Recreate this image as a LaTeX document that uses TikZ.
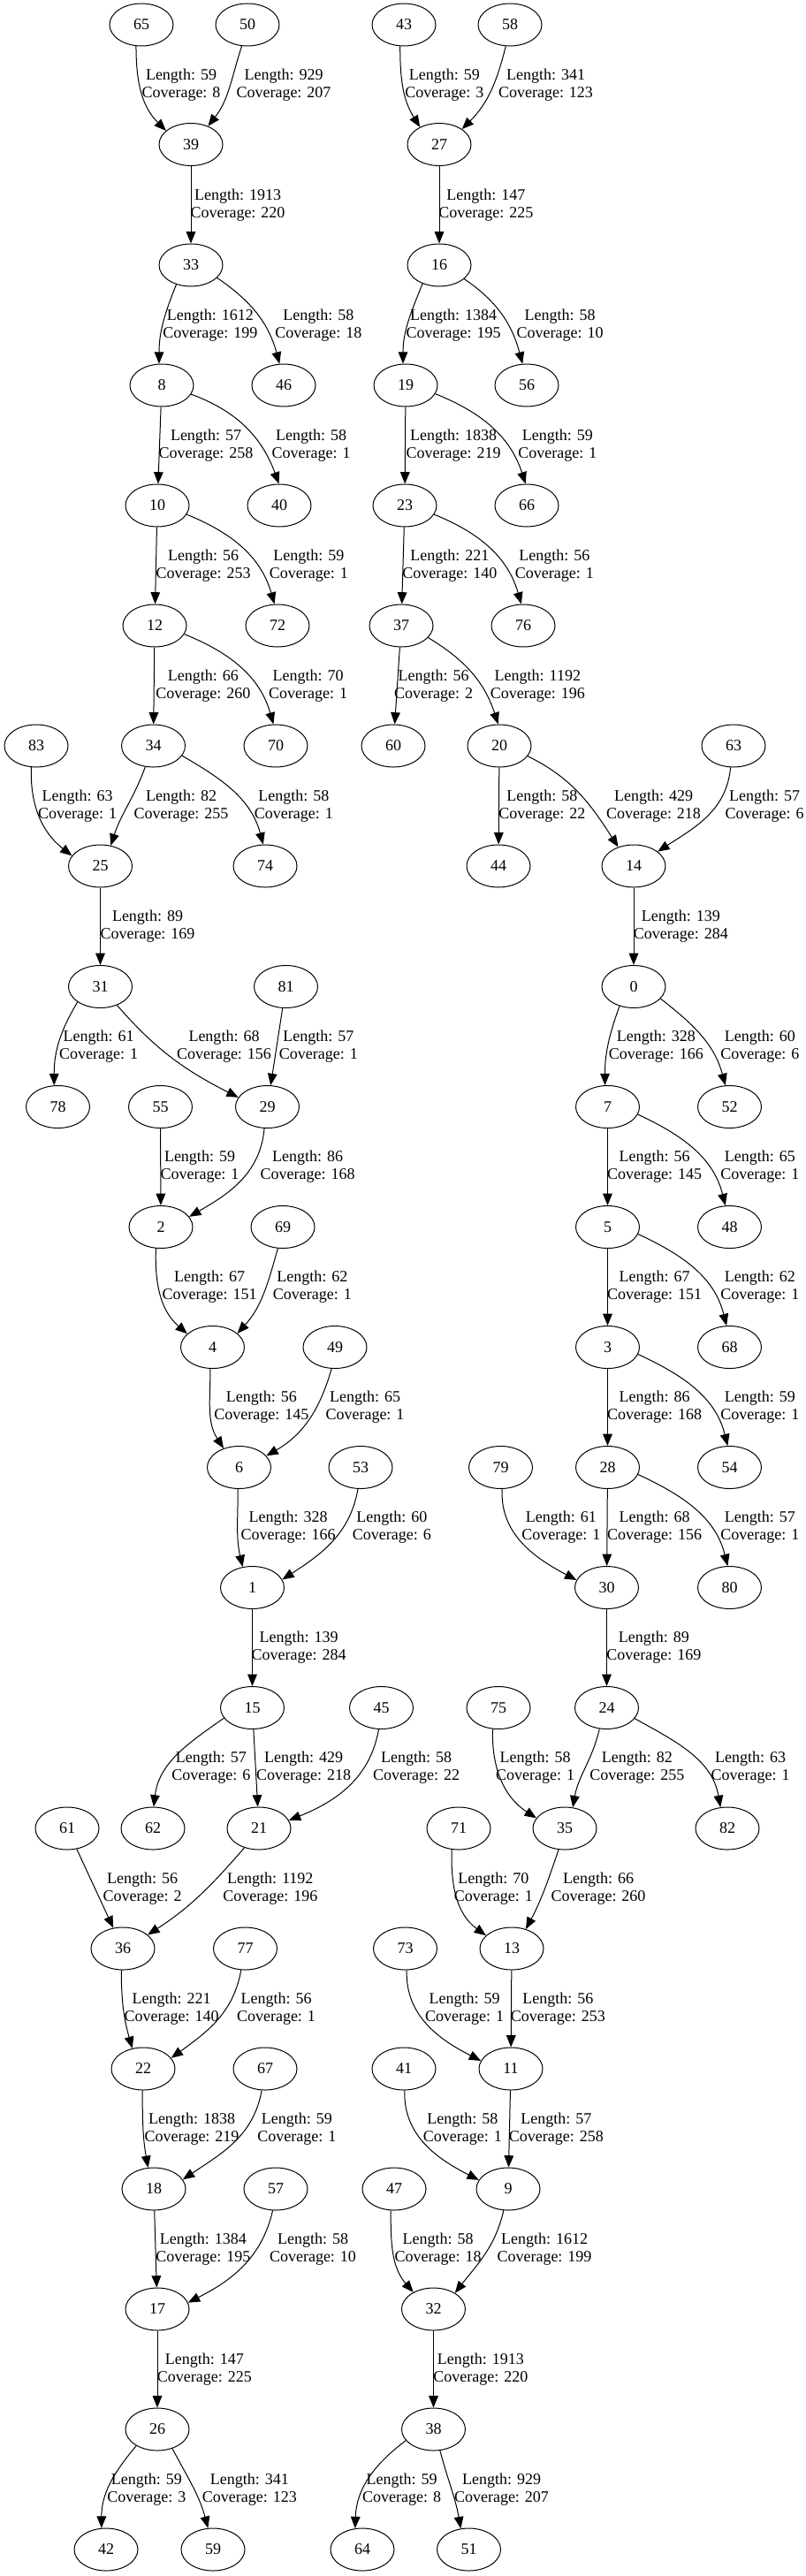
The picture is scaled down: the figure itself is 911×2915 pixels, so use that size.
\documentclass[tikz,border=0pt]{standalone}
\usepackage{fontspec}
\setmainfont{Liberation Serif}
\usetikzlibrary{shapes.geometric,arrows.meta}
\tikzset{
  vert/.style={ellipse, draw, line width=0.75pt, minimum width=54pt, minimum height=36pt, inner sep=0pt, font=\fontsize{13.5}{15}\selectfont},
  lbl/.style={align=center, inner sep=0pt, font=\fontsize{13.5}{15}\selectfont},
  e/.style={-{Triangle[length=10pt,width=8pt]}, line width=0.75pt}
}
\newcommand\elab[5]{\node[lbl] (#1) at (#2,-#3) {Length: #4\\Coverage: #5};}
\begin{document}
\begin{tikzpicture}[x=0.75pt,y=0.75pt]
\useasboundingbox (0,0) rectangle (911,-2915);
% nodes
\foreach \n/\x/\y in {65/160/28,50/280/28,43/457/28,58/577/28,
39/216/163.5,27/497/163.5,
33/216/300,16/497/300,
8/183/436,46/321/436,19/459/436,56/596/436,
10/178/572,40/316/572,23/458/572,66/596/572,
12/175/708,72/314/708,37/454/708,76/592/708,
83/41/844,34/173.5/844,70/312/844,60/445/844,20/565/844,63/830/844,
25/113.5/980,74/300/980,44/564/980,14/717/980,
31/113.5/1116.5,81/323.5/1116.5,0/717/1116.5,
78/65.5/1252.5,55/181.5/1252.5,29/302.5/1252.5,7/687.5/1252.5,52/825.5/1252.5,
2/182/1388.5,69/320/1388.5,5/687.5/1388.5,48/825.5/1388.5,
4/240.5/1524.5,49/379/1524.5,3/687.5/1524.5,68/825.5/1524.5,
6/270.5/1660.5,53/408/1660.5,79/566.5/1660.5,28/687.5/1660.5,54/825.5/1660.5,
1/285.5/1796.5,30/686.5/1796.5,80/825.5/1796.5,
15/285.5/1932.5,45/431.5/1932.5,75/564/1932.5,24/686.5/1932.5,
61/76/2069,62/173/2069,21/293/2069,71/519/2069,35/639/2069,82/823/2069,
36/139/2205,77/277.5/2205,73/458.5/2205,13/579/2205,
22/162/2341,67/300/2341,41/457/2341,11/578/2341,
18/174/2477,57/312/2477,47/446/2477,9/575/2477,
17/178/2613,32/490.5/2613,
26/178/2749,38/490.5/2749,
42/120/2885,59/241/2885,64/410/2885,51/530.5/2885}
  \node[vert] (n\n) at (\x,-\y) {\n};
% labels
\elab{l1}{205}{96}{59}{8}
\elab{l2}{321}{96}{929}{207}
\elab{l3}{502.8}{96}{59}{3}
\elab{l4}{617.5}{96}{341}{123}
\elab{l5}{269}{231.7}{1913}{220}
\elab{l6}{549.8}{231.7}{147}{225}
\elab{l7}{237.8}{368}{1612}{199}
\elab{l8}{360.3}{368}{58}{18}
\elab{l9}{513.2}{368}{1384}{195}
\elab{l10}{633.7}{368}{58}{10}
\elab{l11}{233}{504}{57}{258}
\elab{l12}{352.2}{504}{58}{1}
\elab{l13}{513.1}{504}{1838}{219}
\elab{l14}{630.8}{504}{59}{1}
\elab{l15}{230.1}{640}{56}{253}
\elab{l16}{349.3}{640}{59}{1}
\elab{l17}{508.8}{640}{221}{140}
\elab{l18}{627.3}{640}{56}{1}
\elab{l19}{229.8}{776}{66}{260}
\elab{l20}{348.7}{776}{70}{1}
\elab{l21}{490.7}{776}{56}{2}
\elab{l22}{608.4}{776}{1192}{196}
\elab{l23}{87.6}{912}{63}{1}
\elab{l24}{205}{912}{82}{255}
\elab{l25}{332.4}{912}{58}{1}
\elab{l26}{613.3}{912}{58}{22}
\elab{l27}{739.5}{912}{429}{218}
\elab{l28}{865}{912}{57}{6}
\elab{l29}{167}{1048}{89}{169}
\elab{l30}{770.4}{1048}{139}{284}
\elab{l31}{111.6}{1184.5}{61}{1}
\elab{l32}{253.5}{1184.5}{68}{156}
\elab{l33}{360.4}{1184.5}{57}{1}
\elab{l34}{742.4}{1184.5}{328}{166}
\elab{l35}{859.8}{1184.5}{60}{6}
\elab{l36}{226}{1320.5}{59}{1}
\elab{l37}{348.1}{1320.5}{86}{168}
\elab{l38}{740.7}{1320.5}{56}{145}
\elab{l39}{859.8}{1320.5}{65}{1}
\elab{l40}{237.1}{1456.5}{67}{151}
\elab{l41}{353.4}{1456.5}{62}{1}
\elab{l42}{740.7}{1456.5}{67}{151}
\elab{l43}{859.8}{1456.5}{62}{1}
\elab{l44}{295.8}{1592.5}{56}{145}
\elab{l45}{413}{1592.5}{65}{1}
\elab{l46}{740.7}{1592.5}{86}{168}
\elab{l47}{859.8}{1592.5}{59}{1}
\elab{l48}{326.2}{1728.5}{328}{166}
\elab{l49}{443.3}{1728.5}{60}{6}
\elab{l50}{634.8}{1728.5}{61}{1}
\elab{l51}{740.7}{1728.5}{68}{156}
\elab{l52}{859.8}{1728.5}{57}{1}
\elab{l53}{338.2}{1864.5}{139}{284}
\elab{l54}{739.8}{1864.5}{89}{169}
\elab{l55}{238.9}{2000.5}{57}{6}
\elab{l56}{343.7}{2000.5}{429}{218}
\elab{l57}{471.1}{2000.5}{58}{22}
\elab{l58}{605.7}{2000.5}{58}{1}
\elab{l59}{720.8}{2000.5}{82}{255}
\elab{l60}{849}{2000.5}{63}{1}
\elab{l61}{161.2}{2137}{56}{2}
\elab{l62}{305.8}{2137}{1192}{196}
\elab{l63}{558.4}{2137}{70}{1}
\elab{l64}{677}{2137}{66}{260}
\elab{l65}{194.2}{2273}{221}{140}
\elab{l66}{312.5}{2273}{56}{1}
\elab{l67}{525.7}{2273}{59}{1}
\elab{l68}{631.4}{2273}{56}{253}
\elab{l69}{217}{2409}{1838}{219}
\elab{l70}{335.9}{2409}{59}{1}
\elab{l71}{523.4}{2409}{58}{1}
\elab{l72}{629.4}{2409}{57}{258}
\elab{l73}{229.8}{2545}{1384}{195}
\elab{l74}{354}{2545}{58}{10}
\elab{l75}{495.6}{2545}{58}{18}
\elab{l76}{616}{2545}{1612}{199}
\elab{l77}{231.3}{2681}{147}{225}
\elab{l78}{543.8}{2681}{1913}{220}
\elab{l79}{165.9}{2817}{59}{3}
\elab{l80}{282.4}{2817}{341}{123}
\elab{l81}{454.7}{2817}{59}{8}
\elab{l82}{567.5}{2817}{929}{207}
% edges
\draw[e] (n65.-104) to[out=-90,in=135] (n39.151);
\draw[e] (n50.-105) to[out=-108,in=52] (n39.47);
\draw[e] (n43.-100) to[out=-90,in=122] (n27.138);
\draw[e] (n58.-101) to[out=-104,in=45] (n27.34);
\draw[e] (n39) -- (n33);
\draw[e] (n27) -- (n16);
\draw[e] (n33.-127) to[out=-112,in=90] (n8.97);
\draw[e] (n33.-26) to[out=-34,in=105] (n46.101);
\draw[e] (n16.-132) to[out=-112,in=90] (n19.97);
\draw[e] (n16.-29) to[out=-34,in=105] (n56.101);
\draw[e] (n8) -- (n10);
\draw[e] (n8.-17) to[out=-20,in=110] (n40.91);
\draw[e] (n19) -- (n23);
\draw[e] (n19.-16) to[out=-22,in=108] (n66.93);
\draw[e] (n10) -- (n12);
\draw[e] (n10.-17) to[out=-22,in=106] (n72.98);
\draw[e] (n23) -- (n37);
\draw[e] (n23.-17) to[out=-22,in=106] (n76.95);
\draw[e] (n12) -- (n34);
\draw[e] (n12.-16) to[out=-22,in=106] (n70.96);
\draw[e] (n37) -- (n60);
\draw[e] (n37.-24) to[out=-31,in=108] (n20.93);
\draw[e] (n83.-103) to[out=-92,in=142] (n25.160);
\draw[e] (n34.-111) to[out=-110,in=72] (n25.63);
\draw[e] (n34.-19) to[out=-30,in=105] (n74.95);
\draw[e] (n20) -- (n44);
\draw[e] (n20.-20) to[out=-26,in=123] (n14.129);
\draw[e] (n63.-98) to[out=-95,in=33] (n14.31);
\draw[e] (n25) -- (n31);
\draw[e] (n14) -- (n0);
\draw[e] (n31.-146) to[out=-121,in=90] (n78.100);
\draw[e] (n31.-48) to[out=-49,in=153] (n29.162);
\draw[e] (n81) -- (n29);
\draw[e] (n0.-126) to[out=-110,in=90] (n7.97);
\draw[e] (n0.-24) to[out=-38,in=105] (n52.101);
\draw[e] (n55) -- (n2);
\draw[e] (n29.-98) to[out=-95,in=30] (n2.20);
\draw[e] (n7) -- (n5);
\draw[e] (n7.-14) to[out=-25,in=104] (n48.101);
\draw[e] (n2.-103) to[out=-92,in=139] (n4.152);
\draw[e] (n69.-103) to[out=-106,in=48] (n4.29);
\draw[e] (n5) -- (n3);
\draw[e] (n5.-13) to[out=-25,in=104] (n68.98);
\draw[e] (n4.-96) to[out=-90,in=123] (n6.129);
\draw[e] (n49.-99) to[out=-106,in=30] (n6.23);
\draw[e] (n3) -- (n28);
\draw[e] (n3.-13) to[out=-25,in=104] (n54.95);
\draw[e] (n6.-93) to[out=-90,in=103] (n1.115);
\draw[e] (n53.-97) to[out=-100,in=33] (n1.15);
\draw[e] (n79.-86) to[out=-93,in=152] (n30.166);
\draw[e] (n28) -- (n30);
\draw[e] (n28.-13) to[out=-25,in=104] (n80.95);
\draw[e] (n1) -- (n15);
\draw[e] (n30) -- (n24);
\draw[e] (n15.-160) to[out=-145,in=83] (n62.88);
\draw[e] (n15) -- (n21);
\draw[e] (n45.-97) to[out=-100,in=22] (n21.15);
\draw[e] (n75.-105) to[out=-92,in=147] (n35.160);
\draw[e] (n24.-109) to[out=-103,in=80] (n35.69);
\draw[e] (n24.-21) to[out=-29,in=100] (n82.108);
\draw[e] (n61) -- (n36);
\draw[e] (n21.-127) to[out=-131,in=33] (n36.29);
\draw[e] (n71.-108) to[out=-92,in=144] (n13.153);
\draw[e] (n35.-106) to[out=-109,in=62] (n13.54);
\draw[e] (n36.-94) to[out=-90,in=106] (n22.118);
\draw[e] (n77.-101) to[out=-100,in=36] (n22.21);
\draw[e] (n73.-86) to[out=-92,in=153] (n11.165);
\draw[e] (n13) -- (n11);
\draw[e] (n22.-92) to[out=-90,in=100] (n18.105);
\draw[e] (n67.-99) to[out=-100,in=34] (n18.18);
\draw[e] (n41.-88) to[out=-92,in=153] (n9.163);
\draw[e] (n11) -- (n9);
\draw[e] (n18) -- (n17);
\draw[e] (n57.-98) to[out=-103,in=27] (n17.12);
\draw[e] (n47.-99) to[out=-90,in=131] (n32.140);
\draw[e] (n9.-102) to[out=-103,in=52] (n32.37);
\draw[e] (n17) -- (n26);
\draw[e] (n32) -- (n38);
\draw[e] (n26.-142) to[out=-130,in=90] (n42.102);
\draw[e] (n26.-52) to[out=-62,in=105] (n59.103);
\draw[e] (n38.-158) to[out=-143,in=88] (n64.109);
\draw[e] (n38.-73) to[out=-75,in=100] (n51.111);
\end{tikzpicture}
\end{document}
